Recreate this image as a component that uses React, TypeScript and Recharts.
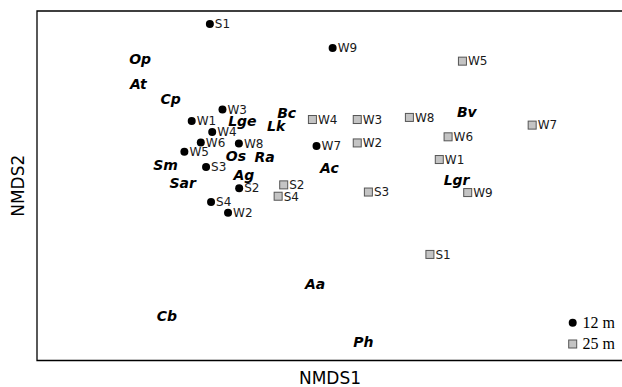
import {
  ScatterChart,
  Scatter,
  XAxis,
  YAxis,
  ReferenceArea,
  Legend,
} from "recharts";

// site scores, 12 m depth
const sites12 = ["S1", "W9", "W3", "W1", "W4", "W6", "W8", "W5", "S3", "S2", "S4", "W2", "W7"];
const x12 = [-0.41, 0.009, -0.367, -0.472, -0.402, -0.441, -0.311, -0.497, -0.423, -0.31, -0.406, -0.348, -0.046];
const y12 = [0.926, 0.788, 0.436, 0.37, 0.308, 0.248, 0.242, 0.194, 0.108, -0.014, -0.093, -0.154, 0.228];

// site scores, 25 m depth
const sites25 = ["W4", "W3", "W8", "W5", "W7", "W6", "W2", "W1", "S3", "W9", "S2", "S4", "S1"];
const x25 = [-0.06, 0.093, 0.271, 0.452, 0.69, 0.403, 0.093, 0.373, 0.131, 0.47, -0.158, -0.177, 0.341];
const y25 = [0.379, 0.379, 0.391, 0.713, 0.347, 0.28, 0.245, 0.15, -0.036, -0.039, 0.005, -0.06, -0.393];

// species scores
const species = ["Op", "At", "Cp", "Bc", "Lge", "Lk", "Os", "Ra", "Sm", "Ag", "Sar", "Ac", "Bv", "Lgr", "Aa", "Cb", "Ph"];
const xSp = [-0.648, -0.654, -0.544, -0.148, -0.299, -0.184, -0.321, -0.223, -0.561, -0.294, -0.503, -0.002, 0.467, 0.432, -0.051, -0.557, 0.114];
const ySp = [0.725, 0.58, 0.496, 0.414, 0.369, 0.341, 0.171, 0.163, 0.117, 0.064, 0.013, 0.102, 0.423, 0.032, -0.56, -0.748, -0.895];

const groups = ["12 m", "25 m"];

const data12 = sites12.map((name, i) => ({ name, x: x12[i], y: y12[i] }));
const data25 = sites25.map((name, i) => ({ name, x: x25[i], y: y25[i] }));
const dataSp = species.map((name, i) => ({ name, x: xSp[i], y: ySp[i] }));

const SANS = "'DejaVu Sans', sans-serif";

// eslint-disable-next-line @typescript-eslint/no-explicit-any
const circleShape = (props: any) => {
  const { cx, cy, payload } = props;
  return (
    <g>
      <circle cx={cx} cy={cy} r={4} fill="#000" />
      <text x={cx + 5} y={cy} dy={4.3} fontSize={12} fontFamily={SANS} fill="#1a1a1a">
        {payload.name}
      </text>
    </g>
  );
};

// eslint-disable-next-line @typescript-eslint/no-explicit-any
const squareShape = (props: any) => {
  const { cx, cy, payload } = props;
  return (
    <g>
      <rect x={cx - 4} y={cy - 4} width={8} height={8} fill="#c4c4c4" stroke="#555" strokeWidth={1} />
      <text x={cx + 5.5} y={cy} dy={4.3} fontSize={12} fontFamily={SANS} fill="#1a1a1a">
        {payload.name}
      </text>
    </g>
  );
};

// eslint-disable-next-line @typescript-eslint/no-explicit-any
const speciesShape = (props: any) => {
  const { cx, cy, payload } = props;
  return (
    <text
      x={cx}
      y={cy}
      dy={5}
      textAnchor="middle"
      fontSize={14}
      fontWeight="bold"
      fontStyle="italic"
      fontFamily={SANS}
      fill="#000"
    >
      {payload.name}
    </text>
  );
};

const renderLegend = () => (
  <svg width={56} height={42} style={{ display: "block" }}>
    <circle cx={6.7} cy={8.7} r={4} fill="#000" />
    <text x={16.5} y={8.7} dy={5} fontSize={16} fontFamily="'Liberation Serif', serif" fill="#000">
      {groups[0]}
    </text>
    <rect x={2.7} y={26} width={8} height={8} fill="#c4c4c4" stroke="#555" strokeWidth={1} />
    <text x={16.5} y={30} dy={5} fontSize={16} fontFamily="'Liberation Serif', serif" fill="#000">
      {groups[1]}
    </text>
  </svg>
);

export default function App() {
  return (
    <div
      style={{
        position: "absolute",
        top: 0,
        left: 0,
        width: 622,
        height: 387,
        overflow: "hidden",
        background: "#fff",
      }}
    >
      <ScatterChart width={650} height={387} margin={{ top: 11, right: 27, bottom: 0, left: 0 }}>
        <XAxis
          type="number"
          dataKey="x"
          domain={[-1, 1]}
          allowDataOverflow
          height={26.5}
          tick={false}
          tickLine={false}
          axisLine={false}
          label={{
            // eslint-disable-next-line @typescript-eslint/no-explicit-any
            content: ({ viewBox }: any) => (
              <text
                x={viewBox.x + viewBox.width / 2}
                y={viewBox.y + 17.5}
                dy={6}
                textAnchor="middle"
                fontSize={17}
                fontFamily={SANS}
                fill="#000"
              >
                NMDS1
              </text>
            ),
          }}
        />
        <YAxis
          type="number"
          dataKey="y"
          domain={[-1, 1]}
          allowDataOverflow
          width={37}
          tick={false}
          tickLine={false}
          axisLine={false}
          label={{
            // eslint-disable-next-line @typescript-eslint/no-explicit-any
            content: ({ viewBox }: any) => {
              const cx = 18;
              const cy = viewBox.y + viewBox.height / 2;
              return (
                <text
                  x={cx}
                  y={cy}
                  dy={6}
                  textAnchor="middle"
                  fontSize={17}
                  fontFamily={SANS}
                  fill="#000"
                  transform={`rotate(-90 ${cx} ${cy})`}
                >
                  NMDS2
                </text>
              );
            },
          }}
        />
        <ReferenceArea x1={-1} x2={1} y1={-1} y2={1} fill="none" stroke="#000" strokeWidth={1.3} />
        <Scatter name={groups[0]} data={data12} shape={circleShape} isAnimationActive={false} />
        <Scatter name={groups[1]} data={data25} shape={squareShape} isAnimationActive={false} />
        <Scatter name="species" data={dataSp} shape={speciesShape} isAnimationActive={false} />
        <Legend
          layout="vertical"
          align="center"
          verticalAlign="middle"
          content={renderLegend}
          wrapperStyle={{ left: 566, top: 314, width: 56, height: 42 }}
        />
      </ScatterChart>
    </div>
  );
}
